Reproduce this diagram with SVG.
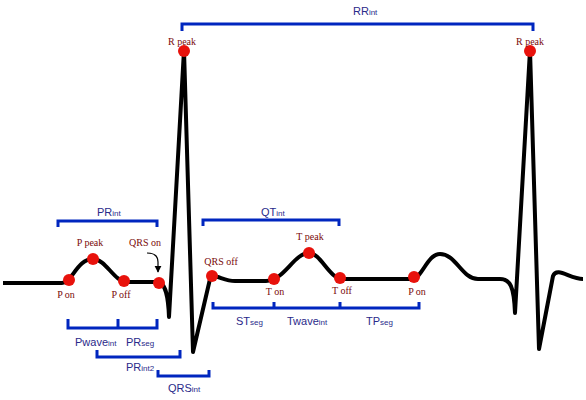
<svg xmlns="http://www.w3.org/2000/svg" width="586" height="400" viewBox="0 0 586 400">
<defs>
<style>
.ecg{fill:none;stroke:#000;stroke-width:4;stroke-linejoin:round;stroke-linecap:butt}
.br{fill:none;stroke:#0026bf;stroke-width:3}
.pt{fill:#e8120c}
.lr{font-family:"Liberation Serif","DejaVu Serif",serif;font-size:10px;fill:#7a0a0a;text-anchor:middle}
.lb{font-family:"Liberation Sans",Arial,sans-serif;font-size:11px;fill:#2a2a8a}
.sub{font-size:8px}
</style>
<marker id="ah" viewBox="0 0 10 10" refX="9" refY="5" markerWidth="6" markerHeight="6" orient="auto">
<path d="M0,0 L10,5 L0,10 Z" fill="#000"/>
</marker>
</defs>
<rect width="586" height="400" fill="#fff"/>
<g id="connectors">
<path id="ecg" class="ecg" d="M3,283 H62 C72,283 77,259 93,259 C106,259 114,282 127,282 H158 C164,283 168,290 169,317 L184,50 L193,352 L210,279 C214,272 222,281 235,281 H266 C284,281 294,253 309,253 C321,253 329,279 343,279 H412 C422,279 427,254 440,254 C456,254 462,279 478,279 H500 C510,279 514,286 515,313 L530,50 L539,349 L553,276 C557,266 570,279 583,279"/>
<path d="M147,253 C154,253 158,256 158,262 L158,272" fill="none" stroke="#000" stroke-width="1.2" marker-end="url(#ah)"/>
<path class="br" d="M58,227 V221 H157 V227"/>
<path class="br" d="M68,319 V328 H157 V319 M118,328 V319"/>
<path class="br" d="M97,350 V357 H180 V350"/>
<path class="br" d="M158,370 V376 H209 V370"/>
<path class="br" d="M203,226 V220 H339 V226"/>
<path class="br" d="M213,302 V308 H419 V302 M274,308 V302 M340,308 V302"/>
<path class="br" d="M182,31 V24 H533 V31"/>
</g>
<g id="points">
<circle class="pt" cx="69" cy="280" r="6"/>
<circle class="pt" cx="93" cy="259" r="6"/>
<circle class="pt" cx="124" cy="281" r="6"/>
<circle class="pt" cx="159" cy="283" r="6"/>
<circle class="pt" cx="184" cy="51" r="6"/>
<circle class="pt" cx="212" cy="276" r="6"/>
<circle class="pt" cx="274" cy="279" r="6"/>
<circle class="pt" cx="309" cy="253" r="6"/>
<circle class="pt" cx="340" cy="278" r="6"/>
<circle class="pt" cx="414" cy="277" r="6"/>
<circle class="pt" cx="530" cy="51" r="6"/>
</g>
<g id="labels">
<text class="lr" x="66" y="298">P on</text>
<text class="lr" x="90" y="246">P peak</text>
<text class="lr" x="121" y="298">P off</text>
<text class="lr" x="145" y="246">QRS on</text>
<text class="lr" x="182" y="45">R peak</text>
<text class="lr" x="530" y="45">R peak</text>
<text class="lr" x="221" y="265">QRS off</text>
<text class="lr" x="275" y="295">T on</text>
<text class="lr" x="310" y="240">T peak</text>
<text class="lr" x="342" y="294">T off</text>
<text class="lr" x="417" y="295">P on</text>
</g>
<g id="intervals">
<text class="lb" x="97" y="216">PR<tspan class="sub">int</tspan></text>
<text class="lb" x="75" y="346">Pwave<tspan class="sub">int</tspan></text>
<text class="lb" x="126" y="346">PR<tspan class="sub">seg</tspan></text>
<text class="lb" x="126" y="371">PR<tspan class="sub">int2</tspan></text>
<text class="lb" x="168" y="392">QRS<tspan class="sub">int</tspan></text>
<text class="lb" x="261" y="216">QT<tspan class="sub">int</tspan></text>
<text class="lb" x="236" y="325">ST<tspan class="sub">seg</tspan></text>
<text class="lb" x="287" y="325">Twave<tspan class="sub">int</tspan></text>
<text class="lb" x="366" y="325">TP<tspan class="sub">seg</tspan></text>
<text class="lb" x="353" y="15">RR<tspan class="sub">int</tspan></text>
</g>
</svg>
